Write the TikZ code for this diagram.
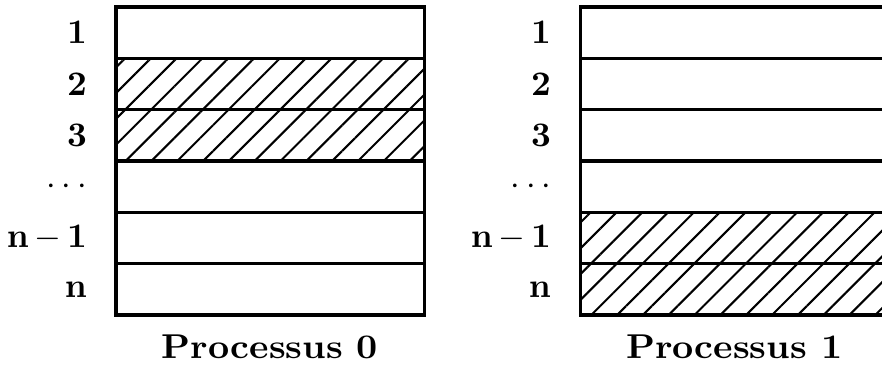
\documentclass[tikz,border=0pt]{standalone}
\usepackage{amsmath}
\usepackage{graphicx}
\usetikzlibrary{patterns.meta,positioning}

\newcommand{\largetitre}[1]{\scalebox{1.07}[1]{\bfseries #1}}

\tikzset{
  cell/.style={draw, line width=0.9pt, minimum width=3.143cm, minimum height=0.524cm, inner sep=0pt, outer sep=0pt},
  hcell/.style={cell, pattern={Lines[angle=45,distance=5.3pt,line width=0.6pt]}},
  rowlabel/.style={inner sep=0pt},
  title/.style={inner sep=0pt}
}

\begin{document}
\begin{tikzpicture}[x=0.5238cm, y=0.5238cm]
    \useasboundingbox (-2.26,-0.955) rectangle (14.92,6.136);

    % Processus 0
    \foreach \i/\sty in {1/cell,2/hcell,3/hcell,4/cell,5/cell,6/cell}
        \node[\sty] (a\i) at (3,6.5-\i) {};
    % Processus 1
    \foreach \i/\sty in {1/cell,2/cell,3/cell,4/cell,5/hcell,6/hcell}
        \node[\sty] (b\i) at (12.04,6.5-\i) {};

    % numeros des lignes
    \foreach \i/\txt in {1/1,2/2,3/3,4/\cdots,5/n\,{-}\,1,6/n}{
        \node[rowlabel, left=0.29cm of a\i] (la\i) {$\mathbf{\txt}$};
        \node[rowlabel, left=0.29cm of b\i] (lb\i) {$\mathbf{\txt}$};
    }

    \node[title, below=0.2cm of a6] (ta) {\largetitre{Processus 0}};
    \node[title, below=0.2cm of b6] (tb) {\largetitre{Processus 1}};
\end{tikzpicture}
\end{document}
